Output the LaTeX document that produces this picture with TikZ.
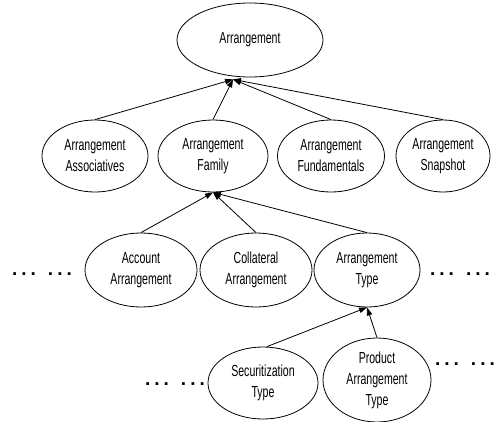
\documentclass[tikz,border=0pt]{standalone}
\usepackage{fontspec}
\setmainfont{Liberation Sans}[FakeStretch=0.66]
\newfontfamily\dotfont{Liberation Sans}[FakeStretch=1.0]
\usetikzlibrary{shapes.geometric,arrows.meta}
\begin{document}
\begin{tikzpicture}[x=1pt,y=-1pt,
  ell/.style={draw=black,line width=0.8pt,ellipse,inner sep=0pt,align=center,
    font=\fontsize{16}{21}\selectfont},
  link/.style={draw=black,line width=0.8pt,-{Triangle[length=8pt,width=5.5pt]}},
  dotsnode/.style={font=\dotfont\bfseries\fontsize{19}{19}\selectfont,inner sep=0pt}]
\useasboundingbox (0,0) rectangle (496,421);
% level 1
\node[ell,minimum width=146pt,minimum height=74pt] (A) at (250,40) {Arrangement};
% level 2
\node[ell,minimum width=106pt,minimum height=72pt] (B1) at (95,156) {Arrangement\\Associatives};
\node[ell,minimum width=110pt,minimum height=72pt] (B2) at (213,156) {Arrangement\\Family};
\node[ell,minimum width=107pt,minimum height=72pt] (B3) at (331,156) {Arrangement\\Fundamentals};
\node[ell,minimum width=94pt,minimum height=72pt] (B4) at (443,156) {Arrangement\\Snapshot};
% level 3
\node[ell,minimum width=112pt,minimum height=74pt] (C1) at (141,270) {Account\\Arrangement};
\node[ell,minimum width=112pt,minimum height=74pt] (C2) at (256,270) {Collateral\\Arrangement};
\node[ell,minimum width=106pt,minimum height=74pt] (C3) at (367,270) {Arrangement\\Type};
\node[dotsnode] (L3l) at (42,274) {.\hspace{4pt}.\hspace{4pt}.\hspace{12pt}.\hspace{4pt}.\hspace{4pt}.};
\node[dotsnode] (L3r) at (460,274) {.\hspace{4pt}.\hspace{4pt}.\hspace{12pt}.\hspace{4pt}.\hspace{4pt}.};
% level 4
\node[ell,minimum width=110pt,minimum height=72pt] (D1) at (263,383) {Securitization\\Type};
\node[ell,minimum width=108pt,minimum height=84pt] (D2) at (377,380) {Product\\Arrangement\\Type};
\node[dotsnode] (L4l) at (175,384) {.\hspace{4pt}.\hspace{4pt}.\hspace{12pt}.\hspace{4pt}.\hspace{4pt}.};
\node[dotsnode] (L4r) at (465,364) {.\hspace{4pt}.\hspace{4pt}.\hspace{12pt}.\hspace{4pt}.\hspace{4pt}.};
% convergence points
\coordinate (tA) at ([xshift=-17pt,yshift=-2pt]A.south);
\coordinate (tB) at (B2.south);
\coordinate (tC) at (C3.south);
% connectors
\draw[link] (B1.north) -- (tA);
\draw[link] (B2.north) -- (tA);
\draw[link] (B3.north) -- (tA);
\draw[link] (B4.north) -- (tA);
\draw[link] (C1.north) -- (tB);
\draw[link] (C2.north) -- (tB);
\draw[link] (C3.north) -- (tB);
\draw[link] ([xshift=4pt]D1.north) -- (tC);
\draw[link] (D2.north) -- (tC);
\end{tikzpicture}
\end{document}
